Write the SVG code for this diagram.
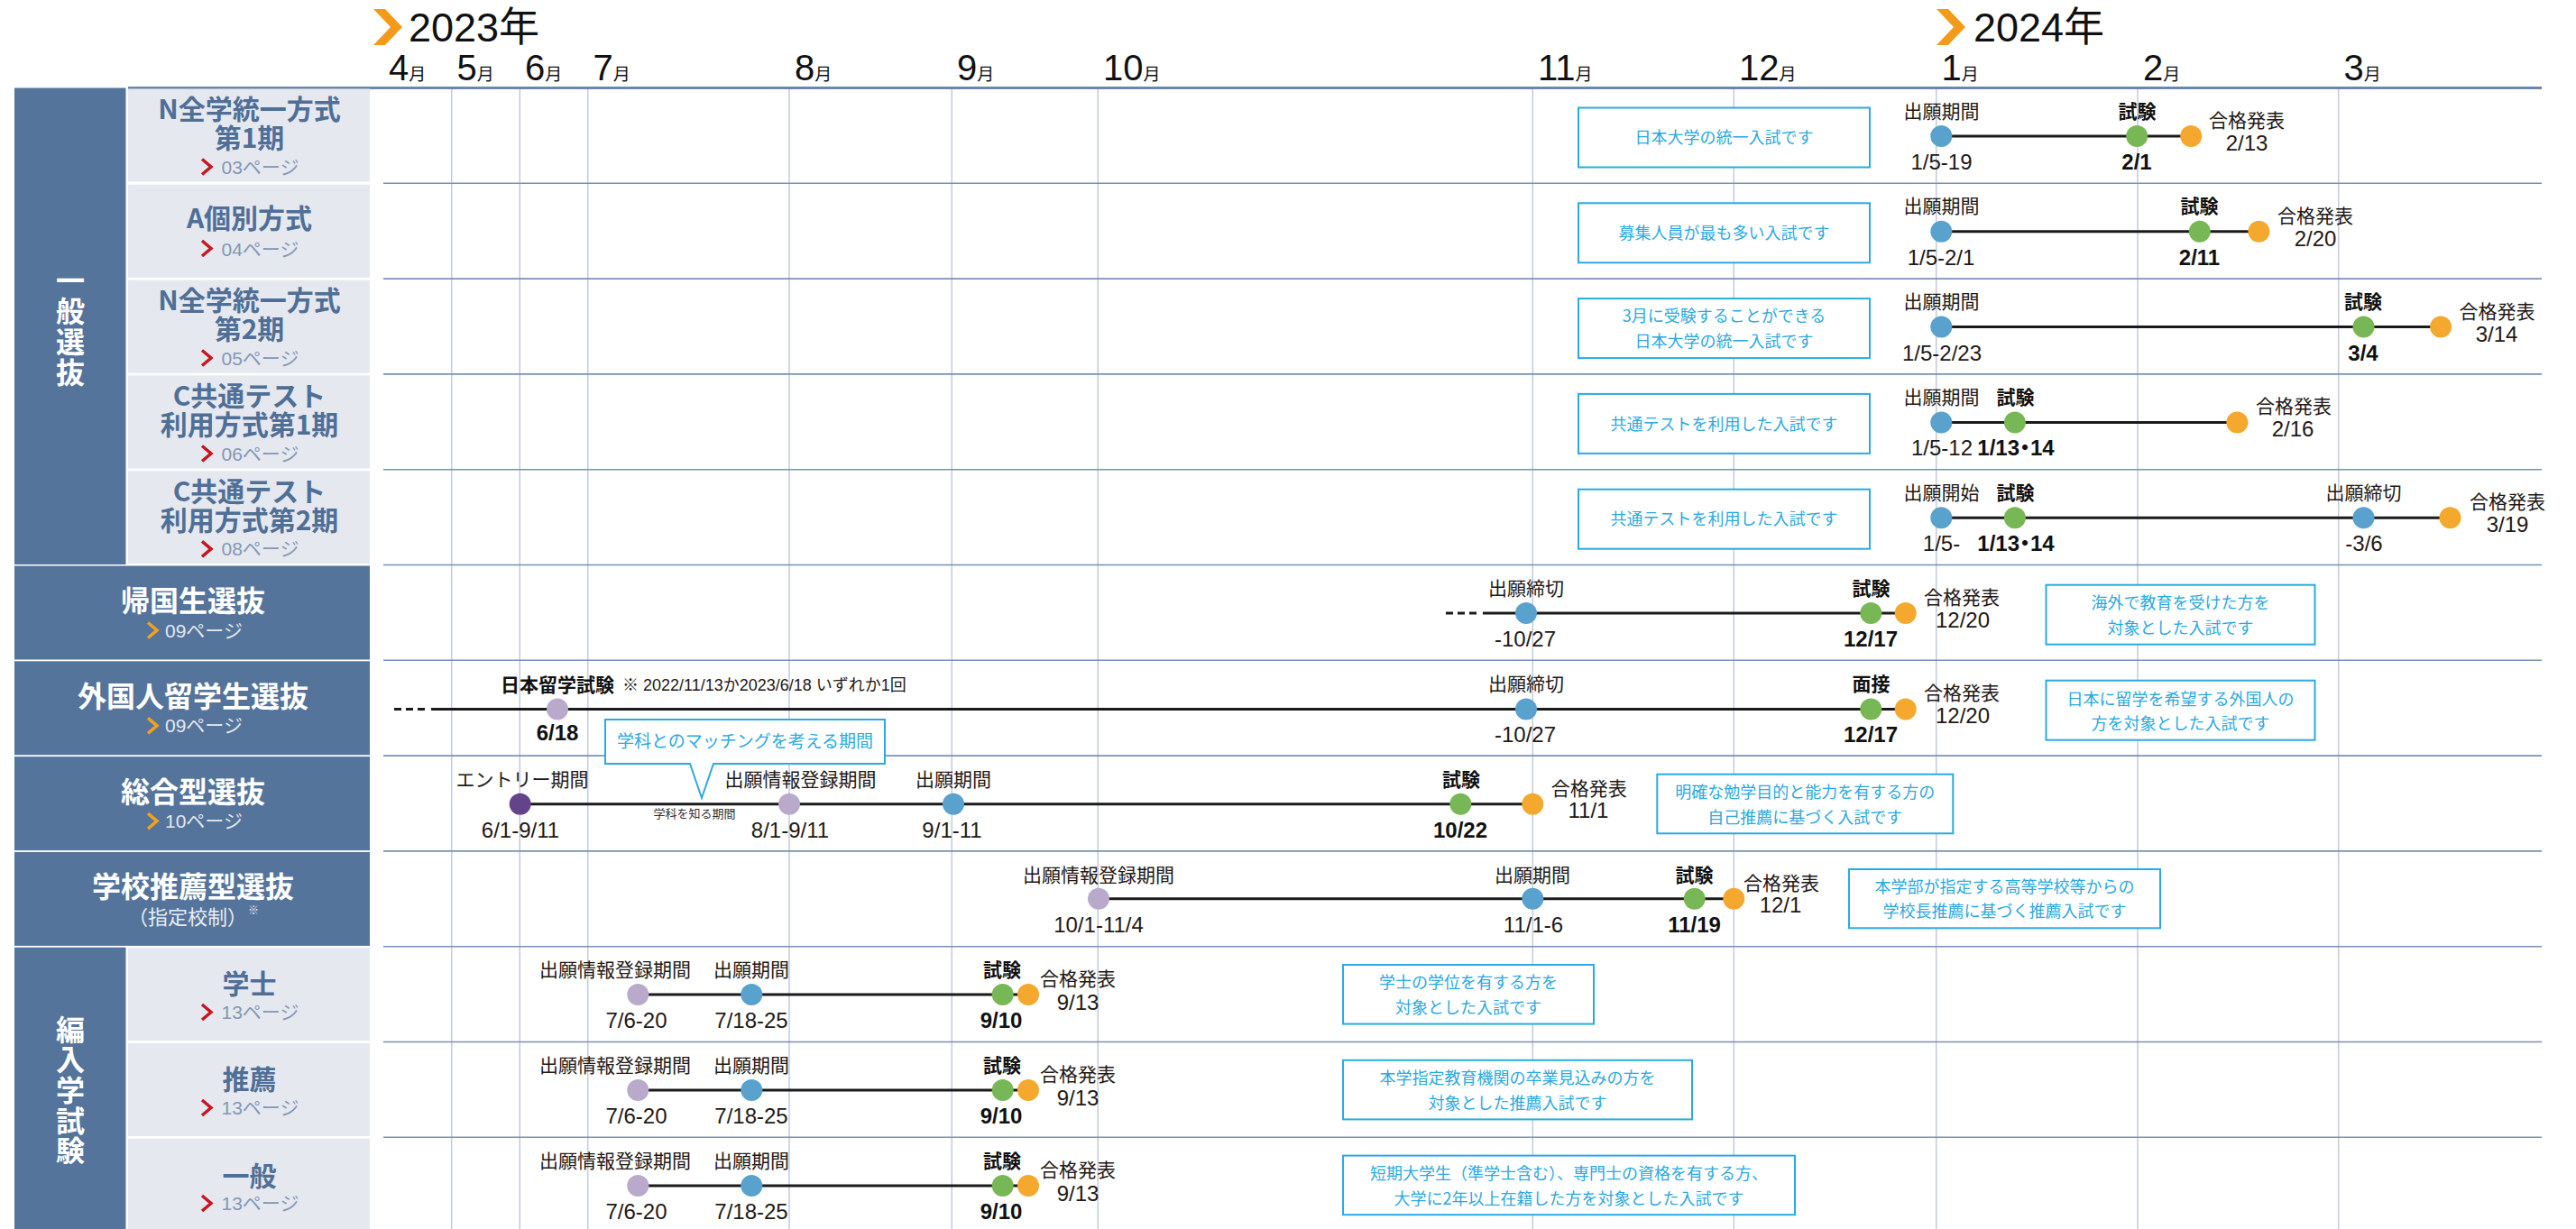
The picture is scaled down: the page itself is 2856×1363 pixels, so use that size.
<svg xmlns="http://www.w3.org/2000/svg" width="2856" height="1363" viewBox="0 0 2856 1363">
<style>
.vg{stroke:#c3cadb;stroke-width:1.5}
.hg{stroke:#7a91b2;stroke-width:1.6}
.tl{stroke:#1a1a1a;stroke-width:3;fill:none}
.dash{stroke:#1a1a1a;stroke-width:3;stroke-dasharray:8 5;fill:none}
.blue{fill:#58a2cd}.green{fill:#78b755}.orange{fill:#f4a82d}.lp{fill:#b9aacc}.dp{fill:#65438a}
.lab{font-family:"Noto Sans CJK JP",sans-serif;font-size:21px;fill:#231815;text-anchor:middle}
.date{font-family:"Liberation Sans","Noto Sans CJK JP",sans-serif;font-size:24px;fill:#231815;text-anchor:middle}
.b{font-weight:700;fill:#111}
.dot{font-family:"Noto Sans CJK JP",sans-serif}
.box{fill:#fff;stroke:#2aaae2;stroke-width:2}
.bt{font-family:"Noto Sans CJK JP",sans-serif;font-size:18px;fill:#2aa9e0;text-anchor:middle}
.dark{fill:#55749b}
.light{fill:#e6e8f0}
.lt{font-family:"Noto Sans CJK JP",sans-serif;font-size:30px;font-weight:700;fill:#4f6f97;text-anchor:middle}
.dt{font-family:"Noto Sans CJK JP",sans-serif;font-size:32px;font-weight:700;fill:#fff;text-anchor:middle}
.vt{font-family:"Noto Sans CJK JP",sans-serif;font-size:32px;font-weight:700;fill:#fff;writing-mode:vertical-rl;text-anchor:start}
.pl{font-family:"Liberation Sans","Noto Sans CJK JP",sans-serif;font-size:21px;fill:#8497b4}
.pd{font-family:"Liberation Sans","Noto Sans CJK JP",sans-serif;font-size:21px;fill:#e2e8f0}
.cr{fill:none;stroke:#c8161e;stroke-width:3.5}
.co{fill:none;stroke:#f4a11f;stroke-width:3.5}
.mn{font-family:"Liberation Sans",sans-serif;font-size:40px;fill:#111}
.mk{font-family:"Noto Sans CJK JP",sans-serif;font-size:19px;fill:#111}
.yr{font-family:"Liberation Sans","Noto Sans CJK JP",sans-serif;font-size:45px;fill:#111}
</style>
<rect width="2856" height="1363" fill="#fff"/>

<g id="header">
<polygon points="414,10 427,10 446,30 427,50 414,50 433,30" fill="#f39a1b"/>
<text x="453" y="46" class="yr">2023年</text>
<polygon points="2147,10 2160,10 2179,30 2160,50 2147,50 2166,30" fill="#f39a1b"/>
<text x="2188" y="46" class="yr">2024年</text>
<text y="89"><tspan x="431" class="mn">4</tspan><tspan class="mk">月</tspan></text>
<text y="89"><tspan x="506.5" class="mn">5</tspan><tspan class="mk">月</tspan></text>
<text y="89"><tspan x="582" class="mn">6</tspan><tspan class="mk">月</tspan></text>
<text y="89"><tspan x="657.5" class="mn">7</tspan><tspan class="mk">月</tspan></text>
<text y="89"><tspan x="881" class="mn">8</tspan><tspan class="mk">月</tspan></text>
<text y="89"><tspan x="1061" class="mn">9</tspan><tspan class="mk">月</tspan></text>
<text y="89"><tspan x="1223" class="mn">10</tspan><tspan class="mk">月</tspan></text>
<text y="89"><tspan x="1705" class="mn">11</tspan><tspan class="mk">月</tspan></text>
<text y="89"><tspan x="1928" class="mn">12</tspan><tspan class="mk">月</tspan></text>
<text y="89"><tspan x="2152.5" class="mn">1</tspan><tspan class="mk">月</tspan></text>
<text y="89"><tspan x="2376" class="mn">2</tspan><tspan class="mk">月</tspan></text>
<text y="89"><tspan x="2598.5" class="mn">3</tspan><tspan class="mk">月</tspan></text>
</g>

<g id="grid">
<line class="vg" x1="500.7" y1="97.5" x2="500.7" y2="1363"/>
<line class="vg" x1="576.3" y1="97.5" x2="576.3" y2="1363"/>
<line class="vg" x1="651.7" y1="97.5" x2="651.7" y2="1363"/>
<line class="vg" x1="875" y1="97.5" x2="875" y2="1363"/>
<line class="vg" x1="1055.3" y1="97.5" x2="1055.3" y2="1363"/>
<line class="vg" x1="1217.3" y1="97.5" x2="1217.3" y2="1363"/>
<line class="vg" x1="1699.3" y1="97.5" x2="1699.3" y2="1363"/>
<line class="vg" x1="1922.3" y1="97.5" x2="1922.3" y2="1363"/>
<line class="vg" x1="2146.7" y1="97.5" x2="2146.7" y2="1363"/>
<line class="vg" x1="2370" y1="97.5" x2="2370" y2="1363"/>
<line class="vg" x1="2592.7" y1="97.5" x2="2592.7" y2="1363"/>
<line x1="142" y1="97.5" x2="2818" y2="97.5" stroke="#6c87ab" stroke-width="3"/>
<line class="hg" x1="425" y1="203.3" x2="2818" y2="203.3"/>
<line class="hg" x1="425" y1="309.1" x2="2818" y2="309.1"/>
<line class="hg" x1="425" y1="414.9" x2="2818" y2="414.9"/>
<line class="hg" x1="425" y1="520.7" x2="2818" y2="520.7"/>
<line class="hg" x1="425" y1="626.5" x2="2818" y2="626.5"/>
<line class="hg" x1="425" y1="732.3" x2="2818" y2="732.3"/>
<line class="hg" x1="425" y1="838.1" x2="2818" y2="838.1"/>
<line class="hg" x1="425" y1="943.9" x2="2818" y2="943.9"/>
<line class="hg" x1="425" y1="1049.7" x2="2818" y2="1049.7"/>
<line class="hg" x1="425" y1="1155.5" x2="2818" y2="1155.5"/>
<line class="hg" x1="425" y1="1261.3" x2="2818" y2="1261.3"/>
</g>

<g id="left-panel">
<g id="cat-ippan">
<rect class="dark" x="16" y="97.5" width="123.5" height="528.5"/>
<text class="vt" x="78" y="295" letter-spacing="2">一般選抜</text>
</g>
<g id="lbl-n1">
<rect class="light" x="142" y="98.5" width="268" height="103"/>
<text class="lt"><tspan x="276.5" y="131.5">N全学統一方式</tspan><tspan x="276.5" y="163.5">第1期</tspan></text>
<polyline class="cr" points="224,176.5 234,185 224,193.5"/><text class="pl" x="245.5" y="192.5">03ページ</text>
</g>
<g id="lbl-a">
<rect class="light" x="142" y="204.8" width="268" height="103"/>
<text class="lt" x="276.5" y="253.3">A個別方式</text>
<polyline class="cr" points="224,267 234,275.5 224,284"/><text class="pl" x="245.5" y="283.5">04ページ</text>
</g>
<g id="lbl-n2">
<rect class="light" x="142" y="310.6" width="268" height="103"/>
<text class="lt"><tspan x="276.5" y="343.6">N全学統一方式</tspan><tspan x="276.5" y="375.6">第2期</tspan></text>
<polyline class="cr" points="224,388.5 234,397 224,405.5"/><text class="pl" x="245.5" y="404.5">05ページ</text>
</g>
<g id="lbl-c1">
<rect class="light" x="142" y="416.4" width="268" height="103"/>
<text class="lt"><tspan x="276.5" y="449.9">C共通テスト</tspan><tspan x="276.5" y="482.4">利用方式第1期</tspan></text>
<polyline class="cr" points="224,494.5 234,503 224,511.5"/><text class="pl" x="245.5" y="510.5">06ページ</text>
</g>
<g id="lbl-c2">
<rect class="light" x="142" y="522.2" width="268" height="103"/>
<text class="lt"><tspan x="276.5" y="555.7">C共通テスト</tspan><tspan x="276.5" y="588.2">利用方式第2期</tspan></text>
<polyline class="cr" points="224,600.3 234,608.8 224,617.3"/><text class="pl" x="245.5" y="616.3">08ページ</text>
</g>
<g id="lbl-kikoku">
<rect class="dark" x="16" y="627.5" width="394" height="104"/>
<text class="dt" x="214" y="678">帰国生選抜</text>
<polyline class="co" points="164,690.5 174,699 164,707.5"/><text class="pd" x="183" y="706.5">09ページ</text>
</g>
<g id="lbl-gaikoku">
<rect class="dark" x="16" y="733.3" width="394" height="104"/>
<text class="dt" x="214" y="783.5">外国人留学生選抜</text>
<polyline class="co" points="164,796.3 174,804.8 164,813.3"/><text class="pd" x="183" y="812.3">09ページ</text>
</g>
<g id="lbl-sogo">
<rect class="dark" x="16" y="839.1" width="394" height="104"/>
<text class="dt" x="214" y="889.5">総合型選抜</text>
<polyline class="co" points="164,902.1 174,910.6 164,919.1"/><text class="pd" x="183" y="918.1">10ページ</text>
</g>
<g id="lbl-suisen">
<rect class="dark" x="16" y="944.9" width="394" height="104"/>
<text class="dt" x="214" y="995">学校推薦型選抜</text>
<text x="208" y="1025" font-family="Noto Sans CJK JP, sans-serif" font-size="22" fill="#e8edf4" text-anchor="middle">（指定校制）</text>
<text x="275" y="1014" font-family="Noto Sans CJK JP, sans-serif" font-size="12" fill="#e8edf4">※</text>
</g>
<g id="cat-hennyu">
<rect class="dark" x="16" y="1050.7" width="123.5" height="312.3"/>
<text class="vt" x="78" y="1125.5" letter-spacing="1.7">編入学試験</text>
</g>
<g id="lbl-gakushi">
<rect class="light" x="142" y="1051.2" width="268" height="103"/>
<text class="lt" x="276.5" y="1101.5" font-size="32">学士</text>
<polyline class="cr" points="224,1114 234,1122.5 224,1131"/><text class="pl" x="245.5" y="1130">13ページ</text>
</g>
<g id="lbl-suisen2">
<rect class="light" x="142" y="1157" width="268" height="103"/>
<text class="lt" x="276.5" y="1207.5" font-size="32">推薦</text>
<polyline class="cr" points="224,1220 234,1228.5 224,1237"/><text class="pl" x="245.5" y="1236">13ページ</text>
</g>
<g id="lbl-ippan2">
<rect class="light" x="142" y="1262.8" width="268" height="100.2"/>
<text class="lt" x="276.5" y="1314.5" font-size="32">一般</text>
<polyline class="cr" points="224,1326 234,1334.5 224,1343"/><text class="pl" x="245.5" y="1342">13ページ</text>
</g>
</g>

<g id="connectors">
<line class="tl" x1="2152.3" y1="151" x2="2429.2" y2="151"/>
<line class="tl" x1="2152.3" y1="256.8" x2="2504.4" y2="256.8"/>
<line class="tl" x1="2152.3" y1="362.6" x2="2706.1" y2="362.6"/>
<line class="tl" x1="2152.3" y1="468.4" x2="2480.4" y2="468.4"/>
<line class="tl" x1="2152.3" y1="574.2" x2="2716.5" y2="574.2"/>
<line class="dash" x1="1603" y1="680" x2="1638" y2="680"/>
<line class="tl" x1="1644" y1="680" x2="2112.7" y2="680"/>
<line class="dash" x1="437" y1="786.5" x2="472" y2="786.5"/>
<line class="tl" x1="478" y1="786.5" x2="2112.7" y2="786.5"/>
<line class="tl" x1="576.7" y1="891.7" x2="1699.3" y2="891.7"/>
<line class="tl" x1="1218" y1="996.7" x2="1922.3" y2="996.7"/>
<line class="tl" x1="707.3" y1="1103" x2="1140" y2="1103"/>
<line class="tl" x1="707.3" y1="1209" x2="1140" y2="1209"/>
<line class="tl" x1="707.3" y1="1315" x2="1140" y2="1315"/>
</g>

<g id="row-n1">
<rect class="box" x="1750" y="119.5" width="323" height="66"/>
<text class="bt" x="1911.5" y="159">日本大学の統一入試です</text>
<circle class="blue" cx="2152.3" cy="151" r="12"/><circle class="green" cx="2369.2" cy="151" r="12"/><circle class="orange" cx="2429.2" cy="151" r="12"/>
<text class="lab" x="2152.5" y="130.5">出願期間</text><text class="date" x="2152.5" y="188">1/5-19</text>
<text class="lab b" x="2369.5" y="130.5">試験</text><text class="date b" x="2369" y="188">2/1</text>
<text class="lab" x="2491" y="141">合格発表</text><text class="date" x="2491" y="167">2/13</text>
</g>
<g id="row-a">
<rect class="box" x="1750" y="225.3" width="323" height="66"/>
<text class="bt" x="1911.5" y="265">募集人員が最も多い入試です</text>
<circle class="blue" cx="2152.3" cy="256.8" r="12"/><circle class="green" cx="2438.8" cy="256.8" r="12"/><circle class="orange" cx="2504.4" cy="256.8" r="12"/>
<text class="lab" x="2152.5" y="236.3">出願期間</text><text class="date" x="2152" y="293.8">1/5-2/1</text>
<text class="lab b" x="2438.5" y="236.3">試験</text><text class="date b" x="2438.5" y="293.8">2/11</text>
<text class="lab" x="2567" y="246.8">合格発表</text><text class="date" x="2567" y="272.8">2/20</text>
</g>
<g id="row-n2">
<rect class="box" x="1750" y="331.1" width="323" height="66"/>
<text class="bt"><tspan x="1911.5" y="357">3月に受験することができる</tspan><tspan x="1911.5" y="384.5">日本大学の統一入試です</tspan></text>
<circle class="blue" cx="2152.3" cy="362.6" r="12"/><circle class="green" cx="2620.5" cy="362.6" r="12"/><circle class="orange" cx="2706.1" cy="362.6" r="12"/>
<text class="lab" x="2152.5" y="342.1">出願期間</text><text class="date" x="2153" y="399.6">1/5-2/23</text>
<text class="lab b" x="2620" y="342.1">試験</text><text class="date b" x="2620" y="399.6">3/4</text>
<text class="lab" x="2768.5" y="352.6">合格発表</text><text class="date" x="2768" y="378.6">3/14</text>
</g>
<g id="row-c1">
<rect class="box" x="1750" y="436.9" width="323" height="66"/>
<text class="bt" x="1911.5" y="476.5">共通テストを利用した入試です</text>
<circle class="blue" cx="2152.3" cy="468.4" r="12"/><circle class="green" cx="2233.9" cy="468.4" r="12"/><circle class="orange" cx="2480.4" cy="468.4" r="12"/>
<text class="lab" x="2152.5" y="447.9">出願期間</text><text class="date" x="2153" y="504.9" textLength="68" lengthAdjust="spacingAndGlyphs">1/5-12</text>
<text class="lab b" x="2234.5" y="447.9">試験</text><text class="date b" x="2235" y="504.9">1/13<tspan class="dot" dx="-6">・</tspan><tspan dx="-6">14</tspan></text>
<text class="lab" x="2543" y="458.4">合格発表</text><text class="date" x="2542" y="484.4">2/16</text>
</g>
<g id="row-c2">
<rect class="box" x="1750" y="542.7" width="323" height="66"/>
<text class="bt" x="1911.5" y="582.3">共通テストを利用した入試です</text>
<circle class="blue" cx="2152.3" cy="574.2" r="12"/><circle class="green" cx="2233.9" cy="574.2" r="12"/><circle class="blue" cx="2620.5" cy="574.2" r="12"/><circle class="orange" cx="2716.5" cy="574.2" r="12"/>
<text class="lab" x="2152.5" y="553.7">出願開始</text><text class="date" x="2152.5" y="610.7">1/5-</text>
<text class="lab b" x="2234.5" y="553.7">試験</text><text class="date b" x="2235" y="610.7">1/13<tspan class="dot" dx="-6">・</tspan><tspan dx="-6">14</tspan></text>
<text class="lab" x="2620.5" y="553.7">出願締切</text><text class="date" x="2621" y="610.7">-3/6</text>
<text class="lab" x="2780" y="564.2">合格発表</text><text class="date" x="2780" y="590.2">3/19</text>
</g>
<g id="row-kikoku">
<rect class="box" x="2268.5" y="648.7" width="298" height="66"/>
<text class="bt"><tspan x="2417.5" y="675">海外で教育を受けた方を</tspan><tspan x="2417.5" y="702.7">対象とした入試です</tspan></text>
<circle class="blue" cx="1692" cy="680" r="12"/><circle class="green" cx="2074.3" cy="680" r="12"/><circle class="orange" cx="2112.7" cy="680" r="12"/>
<text class="lab" x="1692" y="660">出願締切</text><text class="date" x="1691" y="716.5">-10/27</text>
<text class="lab b" x="2074.5" y="660">試験</text><text class="date b" x="2074" y="716.5">12/17</text>
<text class="lab" x="2175" y="670">合格発表</text><text class="date" x="2176" y="696">12/20</text>
</g>
<g id="row-gaikoku">
<rect class="box" x="2268.5" y="754.7" width="298" height="66"/>
<text class="bt"><tspan x="2417.5" y="781.7">日本に留学を希望する外国人の</tspan><tspan x="2417.5" y="809.3">方を対象とした入試です</tspan></text>
<circle class="lp" cx="618" cy="786.5" r="12"/><circle class="blue" cx="1692" cy="786.5" r="12"/><circle class="green" cx="2074.3" cy="786.5" r="12"/><circle class="orange" cx="2112.7" cy="786.5" r="12"/>
<text x="555" y="767" font-family="Noto Sans CJK JP, sans-serif" font-size="21" font-weight="700" fill="#111">日本留学試験</text>
<text x="690" y="766" font-family="Liberation Sans, Noto Sans CJK JP, sans-serif" font-size="18" fill="#231815">※ 2022/11/13か2023/6/18 いずれか1回</text>
<text class="date b" x="618" y="821">6/18</text>
<text class="lab" x="1692" y="766">出願締切</text><text class="date" x="1691" y="822.5">-10/27</text>
<text class="lab b" x="2074.5" y="766">面接</text><text class="date b" x="2074" y="822.5">12/17</text>
<text class="lab" x="2175" y="776">合格発表</text><text class="date" x="2176" y="802">12/20</text>
</g>
<g id="row-sogo">
<path class="box" d="M671,798 H981 V847 H791 L778,885 L765,847 H671 Z"/>
<text x="826" y="829" font-family="Noto Sans CJK JP, sans-serif" font-size="19" fill="#2aa9e0" text-anchor="middle">学科とのマッチングを考える期間</text>
<text x="770" y="906.5" font-family="Noto Sans CJK JP, sans-serif" font-size="13" fill="#333" text-anchor="middle">学科を知る期間</text>
<rect class="box" x="1837.3" y="858.7" width="328" height="65.6"/>
<text class="bt"><tspan x="2001.3" y="885">明確な勉学目的と能力を有する方の</tspan><tspan x="2001.3" y="913">自己推薦に基づく入試です</tspan></text>
<circle class="dp" cx="576.7" cy="891.7" r="12"/><circle class="lp" cx="875" cy="891.7" r="12"/><circle class="blue" cx="1057" cy="891.7" r="12"/><circle class="green" cx="1619.3" cy="891.7" r="12"/><circle class="orange" cx="1699.3" cy="891.7" r="12"/>
<text class="lab" x="579" y="871.7">エントリー期間</text><text class="date" x="577" y="929.3">6/1-9/11</text>
<text class="lab" x="887.5" y="871.7">出願情報登録期間</text><text class="date" x="876" y="929.3">8/1-9/11</text>
<text class="lab" x="1057" y="871.7">出願期間</text><text class="date" x="1055.5" y="929.3">9/1-11</text>
<text class="lab b" x="1620" y="871.7">試験</text><text class="date b" x="1619" y="929">10/22</text>
<text class="lab" x="1761.7" y="881.7">合格発表</text><text class="date" x="1761" y="907.3">11/1</text>
</g>
<g id="row-suisen">
<rect class="box" x="2050" y="964" width="345" height="65.3"/>
<text class="bt"><tspan x="2222.5" y="990">本学部が指定する高等学校等からの</tspan><tspan x="2222.5" y="1016.7">学校長推薦に基づく推薦入試です</tspan></text>
<circle class="lp" cx="1218" cy="996.7" r="12"/><circle class="blue" cx="1699.3" cy="996.7" r="12"/><circle class="green" cx="1878.7" cy="996.7" r="12"/><circle class="orange" cx="1922.3" cy="996.7" r="12"/>
<text class="lab" x="1218" y="978">出願情報登録期間</text><text class="date" x="1218" y="1034">10/1-11/4</text>
<text class="lab" x="1699" y="978">出願期間</text><text class="date" x="1700" y="1034">11/1-6</text>
<text class="lab b" x="1878.5" y="978">試験</text><text class="date b" x="1878.5" y="1034">11/19</text>
<text class="lab" x="1975" y="986.7">合格発表</text><text class="date" x="1974" y="1011.7">12/1</text>
</g>
<g id="row-gakushi">
<rect class="box" x="1489" y="1070" width="278" height="65.6"/>
<text class="bt"><tspan x="1628" y="1096">学士の学位を有する方を</tspan><tspan x="1628" y="1124">対象とした入試です</tspan></text>
<circle class="lp" cx="707.3" cy="1103" r="12"/><circle class="blue" cx="833.3" cy="1103" r="12"/><circle class="green" cx="1111.7" cy="1103" r="12"/><circle class="orange" cx="1140" cy="1103" r="12"/>
<text class="lab" x="682" y="1083.3">出願情報登録期間</text><text class="lab" x="833" y="1083.3">出願期間</text>
<text class="date" x="705.5" y="1140">7/6-20</text><text class="date" x="833" y="1140">7/18-25</text>
<text class="lab b" x="1111" y="1083.3">試験</text><text class="date b" x="1110" y="1140">9/10</text>
<text class="lab" x="1195" y="1093.3">合格発表</text><text class="date" x="1195" y="1120">9/13</text>
</g>
<g id="row-suisen2">
<rect class="box" x="1489" y="1175.8" width="387" height="65.6"/>
<text class="bt"><tspan x="1682.5" y="1201.8">本学指定教育機関の卒業見込みの方を</tspan><tspan x="1682.5" y="1229.8">対象とした推薦入試です</tspan></text>
<circle class="lp" cx="707.3" cy="1209" r="12"/><circle class="blue" cx="833.3" cy="1209" r="12"/><circle class="green" cx="1111.7" cy="1209" r="12"/><circle class="orange" cx="1140" cy="1209" r="12"/>
<text class="lab" x="682" y="1189.1">出願情報登録期間</text><text class="lab" x="833" y="1189.1">出願期間</text>
<text class="date" x="705.5" y="1245.8">7/6-20</text><text class="date" x="833" y="1245.8">7/18-25</text>
<text class="lab b" x="1111" y="1189.1">試験</text><text class="date b" x="1110" y="1245.8">9/10</text>
<text class="lab" x="1195" y="1199.1">合格発表</text><text class="date" x="1195" y="1225.8">9/13</text>
</g>
<g id="row-ippan2">
<rect class="box" x="1489" y="1281.6" width="501" height="65.6"/>
<text class="bt"><tspan x="1739.5" y="1307.6">短期大学生（準学士含む）、専門士の資格を有する方、</tspan><tspan x="1739.5" y="1335.6">大学に2年以上在籍した方を対象とした入試です</tspan></text>
<circle class="lp" cx="707.3" cy="1315" r="12"/><circle class="blue" cx="833.3" cy="1315" r="12"/><circle class="green" cx="1111.7" cy="1315" r="12"/><circle class="orange" cx="1140" cy="1315" r="12"/>
<text class="lab" x="682" y="1294.9">出願情報登録期間</text><text class="lab" x="833" y="1294.9">出願期間</text>
<text class="date" x="705.5" y="1351.6">7/6-20</text><text class="date" x="833" y="1351.6">7/18-25</text>
<text class="lab b" x="1111" y="1294.9">試験</text><text class="date b" x="1110" y="1351.6">9/10</text>
<text class="lab" x="1195" y="1304.9">合格発表</text><text class="date" x="1195" y="1331.6">9/13</text>
</g>
</svg>
